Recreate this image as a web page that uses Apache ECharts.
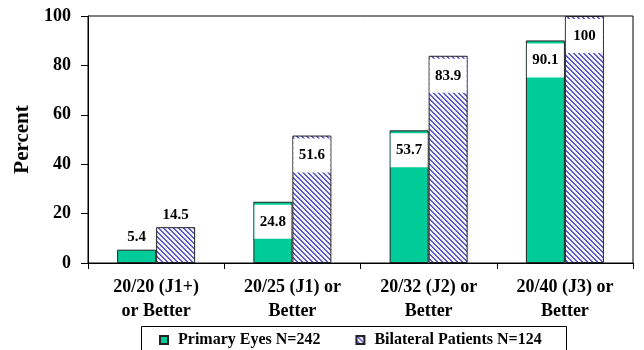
<!DOCTYPE html>
<html>
<head>
<meta charset="utf-8">
<script src="https://cdn.jsdelivr.net/npm/echarts@6/dist/echarts.min.js"></script>
<style>
  html, body { margin: 0; padding: 0; background: #fff; }
  #chart { width: 644px; height: 350px; }
</style>
</head>
<body>
<div id="chart"></div>
<script>
// Visual acuity outcome categories and the share of eyes / patients reaching each
const categories = [
  '20/20 (J1+)\nor Better',
  '20/25 (J1) or\nBetter',
  '20/32 (J2) or\nBetter',
  '20/40 (J3) or\nBetter'
];
const primaryEyes = [5.4, 24.8, 53.7, 90.1];
const bilateralPatients = [14.5, 51.6, 83.9, 100];
const seriesNames = ['Primary Eyes N=242', 'Bilateral Patients N=124'];
const yTicks = [0, 20, 40, 60, 80, 100];

const FONT = '"Liberation Serif", "Times New Roman", serif';

// Diagonal hatch fill for the bilateral series
function makeHatch() {
  const n = 5;
  const c = document.createElement('canvas');
  c.width = n; c.height = n;
  const ctx = c.getContext('2d');
  ctx.fillStyle = '#f1f1ff';
  ctx.fillRect(0, 0, n, n);
  ctx.fillStyle = '#5c5cc4';
  for (let i = 0; i < n; i++) {
    ctx.fillRect(i, i, 1, 1);
    ctx.fillRect((i + 1) % n, i, 1, 1);
  }
  return c;
}
const hatch = { image: makeHatch(), repeat: 'repeat' };

// Short bars get their value above; taller ones get a white box inside the top
function toItems(values) {
  return values.map(v => {
    if (v < 20) {
      return { value: v, label: { position: 'top', distance: 5 } };
    }
    return {
      value: v,
      label: {
        position: 'insideTop',
        distance: 3,
        backgroundColor: '#fff',
        width: 37,
        lineHeight: 16,
        padding: [9, 0, 9, 0],
        align: 'center'
      }
    };
  });
}

const valueLabel = {
  show: true,
  fontFamily: FONT,
  fontWeight: 'bold',
  fontSize: 15,
  color: '#000',
  formatter: p => String(p.value)
};

const chart = echarts.init(document.getElementById('chart'), null, { renderer: 'canvas' });
chart.setOption({
  animation: false,
  backgroundColor: '#fff',
  textStyle: { fontFamily: FONT },
  grid: {
    left: 88, right: 11, top: 16, bottom: 87,
    show: true, borderColor: '#000', borderWidth: 1, backgroundColor: 'transparent'
  },
  legend: {
    data: seriesNames,
    left: 159,
    top: 332,
    padding: 0,
    icon: 'rect',
    itemWidth: 8,
    itemHeight: 8,
    itemGap: 35,
    textStyle: {
      fontFamily: FONT, fontWeight: 'bold', fontSize: 16, color: '#000',
      padding: [0, 0, 0, 5]
    }
  },
  graphic: [{
    type: 'rect',
    silent: true,
    shape: { x: 141.5, y: 326.5, width: 425, height: 30 },
    style: { fill: 'none', stroke: '#000', lineWidth: 1 }
  }],
  xAxis: {
    type: 'category',
    data: categories,
    axisLine: { lineStyle: { color: '#000', width: 1 } },
    axisTick: { show: true, length: 6, lineStyle: { color: '#000' } },
    axisLabel: {
      interval: 0,
      margin: 13,
      fontFamily: FONT, fontWeight: 'bold', fontSize: 18, lineHeight: 23.5, color: '#000'
    }
  },
  yAxis: {
    type: 'value',
    min: 0, max: 100, interval: 20,
    name: 'Percent',
    nameLocation: 'middle',
    nameRotate: 90,
    nameGap: 54,
    nameTextStyle: { fontFamily: FONT, fontWeight: 'bold', fontSize: 21, color: '#000' },
    splitLine: { show: false },
    axisLine: { show: true, lineStyle: { color: '#000', width: 1 } },
    axisTick: { show: true, length: 7, lineStyle: { color: '#000' } },
    axisLabel: {
      margin: 17,
      fontFamily: FONT, fontWeight: 'bold', fontSize: 18, color: '#000',
      formatter: v => (yTicks.indexOf(v) >= 0 ? String(v) : '')
    }
  },
  series: [
    {
      name: seriesNames[0],
      type: 'bar',
      barWidth: 39,
      barGap: '0%',
      itemStyle: { color: '#00cc99', borderColor: '#222', borderWidth: 1 },
      label: valueLabel,
      data: toItems(primaryEyes)
    },
    {
      name: seriesNames[1],
      type: 'bar',
      barWidth: 39,
      barGap: '0%',
      itemStyle: { color: hatch, borderColor: '#222', borderWidth: 1 },
      label: valueLabel,
      data: toItems(bilateralPatients)
    }
  ]
});
</script>
</body>
</html>
